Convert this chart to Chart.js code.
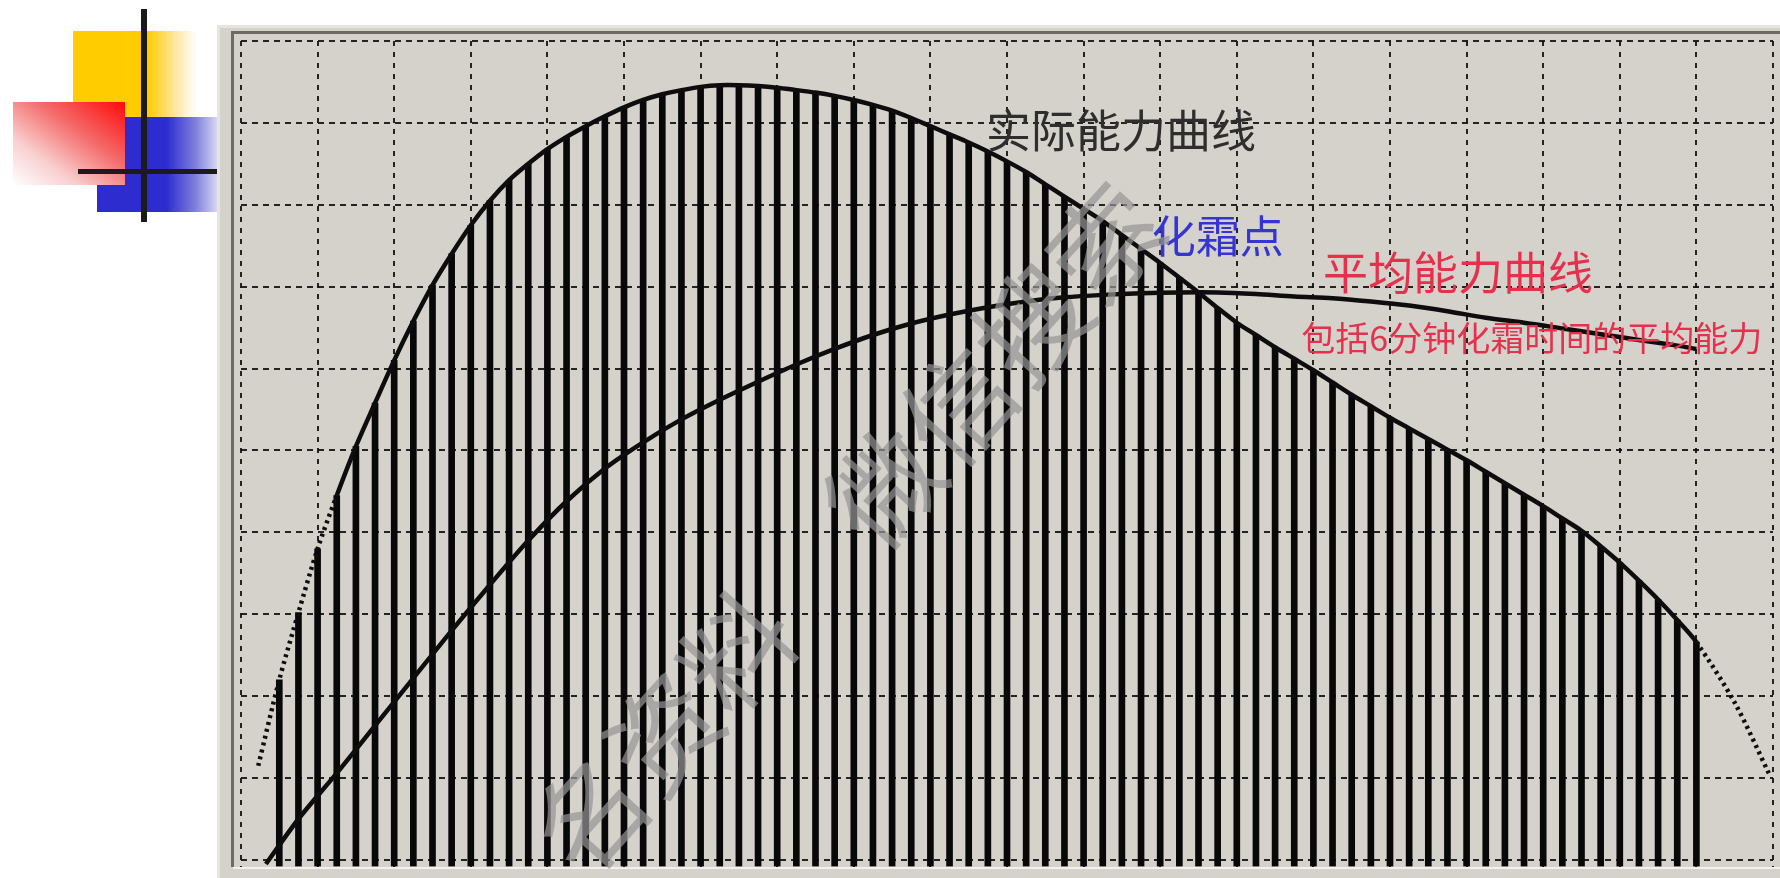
<!DOCTYPE html>
<html lang="zh-CN">
<head>
<meta charset="utf-8">
<title>实际能力曲线与平均能力曲线</title>
<script src="https://cdn.jsdelivr.net/npm/chart.js@4.4.1/dist/chart.umd.min.js"></script>
<style>
  html, body { margin: 0; padding: 0; background: #ffffff; width: 1780px; height: 878px; overflow: hidden; }
  #logo { position: absolute; left: 0; top: 0; width: 217px; height: 230px; }
  .blk { position: absolute; }
  #wrap { position: absolute; left: 0; top: 0; width: 1780px; height: 878px; }
</style>
</head>
<body>
<div id="logo">
  <div class="blk" style="left:73px;top:31px;width:124px;height:86px;background:linear-gradient(to right,#ffcc00 0%,#ffcc00 60%,rgba(255,215,100,0.55) 84%,rgba(255,255,255,0) 100%);"></div>
  <div class="blk" style="left:97px;top:117px;width:120px;height:95px;background:linear-gradient(to right,#2d2dcf 0%,#2d2dcf 58%,#7f7fdc 82%,#d6d6f4 100%);"></div>
  <div class="blk" style="left:13px;top:102px;width:112px;height:83px;background:linear-gradient(to bottom left,#ff0a0a 0%,#f46a6a 38%,#f9d0d0 72%,#ffffff 100%);"></div>
  <div class="blk" style="left:141px;top:9px;width:6px;height:213px;background:#1b1b1b;"></div>
  <div class="blk" style="left:78px;top:169px;width:139px;height:5px;background:#1b1b1b;"></div>
</div>
<div id="wrap"><canvas id="c" width="1780" height="878"></canvas></div>
<script>
// 横轴以 1/4 格为单位（共 20 格 = 80 单位），纵轴 0–10
const xTicks = [0, 4, 8, 12, 16, 20, 24, 28, 32, 36, 40, 44, 48, 52, 56, 60, 64, 68, 72, 76, 80];
const yTicks = [0, 1, 2, 3, 4, 5, 6, 7, 8, 9, 10];

// 每根竖条的位置与高度（实际能力）
const barPositions = [
  2, 3, 4, 5, 6, 7, 8, 9, 10, 11, 12, 13, 14, 15, 16, 17, 18, 19, 20, 21,
  22, 23, 24, 25, 26, 27, 28, 29, 30, 31, 32, 33, 34, 35, 36, 37, 38, 39, 40, 41,
  42, 43, 44, 45, 46, 47, 48, 49, 50, 51, 52, 53, 54, 55, 56, 57, 58, 59, 60, 61,
  62, 63, 64, 65, 66, 67, 68, 69, 70, 71, 72, 73, 74, 75, 76
];
const actualCapacity = [
  2.20, 3.02, 3.80, 4.45, 5.05, 5.58, 6.10, 6.58, 7.02, 7.40, 7.75, 8.05, 8.30, 8.50, 8.68, 8.83, 8.96, 9.08, 9.19, 9.28,
  9.35, 9.40, 9.44, 9.46, 9.46, 9.45, 9.43, 9.40, 9.37, 9.33, 9.28, 9.22, 9.15, 9.06, 8.96, 8.86, 8.76, 8.65, 8.53, 8.40,
  8.25, 8.10, 7.95, 7.80, 7.63, 7.46, 7.29, 7.11, 6.93, 6.74, 6.56, 6.41, 6.26, 6.12, 5.98, 5.83, 5.68, 5.54, 5.40, 5.27,
  5.14, 5.01, 4.88, 4.74, 4.60, 4.46, 4.32, 4.17, 4.02, 3.83, 3.63, 3.41, 3.18, 2.93, 2.66
];

// 实际能力曲线在竖条之外的首尾两段
const leadInX = [0.9];
const leadInY = [1.15];
const tailX = [78, 79.8];
const tailY = [1.92, 1.05];

// 平均能力曲线（含 6 分钟化霜时间）
const averageX = [1.3, 3, 5, 7, 9, 11, 13, 15, 17, 19, 21, 23, 25, 27, 29, 31, 33, 35, 37, 39,
  41, 43, 45, 47, 49, 51, 53, 55, 57, 59, 61, 63, 65, 67, 69, 71, 73, 75, 76];
const averageY = [-0.05, 0.50, 1.06, 1.64, 2.22, 2.80, 3.36, 3.90, 4.38, 4.78, 5.10, 5.38, 5.62, 5.84, 6.05, 6.24, 6.41, 6.55, 6.66, 6.75,
  6.82, 6.87, 6.90, 6.92, 6.93, 6.93, 6.91, 6.88, 6.86, 6.82, 6.77, 6.70, 6.62, 6.56, 6.49, 6.42, 6.35, 6.28, 6.24];

const yFloor = -0.08;

const toPoints = (xs, ys) => xs.map((x, i) => ({ x, y: ys[i] }));
const barPoints = toPoints(barPositions, actualCapacity);
const actualCurve = toPoints(leadInX.concat(barPositions, tailX), leadInY.concat(actualCapacity, tailY));
const averageCurve = toPoints(averageX, averageY);

// 图中文字标注（数据坐标）
const curveLabels = [
  { text: '实际能力曲线', x: 45.95, y: 8.90, color: '#2e2e2e', size: 45 },
  { text: '化霜点', x: 51.0, y: 7.61, color: '#3535d2', size: 44 },
  { text: '平均能力曲线', x: 63.55, y: 7.17, color: '#e6304c', size: 45 },
  { text: '包括6分钟化霜时间的平均能力', x: 67.4, y: 6.37, color: '#e6304c', size: 34 }
];

// 面板底色与凹陷边框
const panelPlugin = {
  id: 'panel',
  beforeDraw(chart) {
    const ctx = chart.ctx;
    ctx.save();
    ctx.fillStyle = '#d5d1cb';
    ctx.fillRect(217, 25, 1563, 853);
    ctx.fillStyle = '#e6e4df';
    ctx.fillRect(217, 25, 1563, 3);
    ctx.fillRect(217, 25, 3, 853);
    ctx.strokeStyle = '#6c6b68';
    ctx.lineWidth = 3;
    ctx.beginPath();
    ctx.moveTo(1780, 32.5);
    ctx.lineTo(232.5, 32.5);
    ctx.lineTo(232.5, 867);
    ctx.stroke();
    ctx.strokeStyle = '#f2f1ee';
    ctx.lineWidth = 2;
    ctx.beginPath();
    ctx.moveTo(233, 868);
    ctx.lineTo(1780, 868);
    ctx.stroke();
    ctx.restore();
  }
};

// 文字标注与水印
const annotatePlugin = {
  id: 'annotate',
  afterDatasetsDraw(chart) {
    const { ctx, scales } = chart;
    ctx.save();
    ctx.textAlign = 'center';
    ctx.textBaseline = 'middle';
    for (const l of curveLabels) {
      ctx.font = `${l.size}px "Noto Sans CJK SC", "Noto Sans", sans-serif`;
      ctx.fillStyle = l.color;
      ctx.fillText(l.text, scales.x.getPixelForValue(l.x), scales.y.getPixelForValue(l.y));
    }
    ctx.translate(590, 815);
    ctx.rotate(-48 * Math.PI / 180);
    ctx.font = '400 110px "Noto Sans CJK SC", sans-serif';
    ctx.fillStyle = 'rgba(150,150,150,0.7)';
    ctx.textAlign = 'left';
    ctx.fillText('名资料　微信搜索', -55, 0);
    ctx.restore();
  }
};

new Chart(document.getElementById('c'), {
  type: 'bar',
  data: {
    datasets: [
      {
        type: 'line',
        label: '实际能力曲线',
        data: actualCurve,
        borderColor: '#0d0d0d',
        borderWidth: 4.5,
        pointRadius: 0,
        tension: 0.3,
        borderCapStyle: 'butt',
        segment: {
          borderDash: c => (c.p1.parsed.x <= 5 || c.p0.parsed.x >= 76) ? [3, 4] : undefined
        },
        order: 1
      },
      {
        type: 'line',
        label: '平均能力曲线',
        data: averageCurve,
        borderColor: '#0d0d0d',
        borderWidth: 4.5,
        pointRadius: 0,
        tension: 0.3,
        order: 2
      },
      {
        type: 'bar',
        label: '实际能力',
        data: barPoints,
        backgroundColor: '#080808',
        borderWidth: 0,
        barThickness: 6,
        base: yFloor,
        order: 3
      }
    ]
  },
  options: {
    responsive: false,
    animation: false,
    events: [],
    layout: { padding: { left: 241, top: 41, right: 7, bottom: 11.5 } },
    plugins: { legend: { display: false }, tooltip: { enabled: false } },
    scales: {
      x: {
        type: 'linear',
        min: 0,
        max: 80,
        offset: false,
        afterBuildTicks: axis => { axis.ticks = xTicks.map(v => ({ value: v })); },
        ticks: { display: false },
        grid: { color: 'rgba(15,15,15,0.9)', lineWidth: 2, drawTicks: false, offset: false },
        border: { display: false, dash: [5, 6] }
      },
      y: {
        type: 'linear',
        min: yFloor,
        max: 10,
        afterBuildTicks: axis => { axis.ticks = yTicks.map(v => ({ value: v })); },
        ticks: { display: false },
        grid: { color: 'rgba(15,15,15,0.9)', lineWidth: 2, drawTicks: false },
        border: { display: false, dash: [6, 5] }
      }
    }
  },
  plugins: [panelPlugin, annotatePlugin]
});
</script>
</body>
</html>
